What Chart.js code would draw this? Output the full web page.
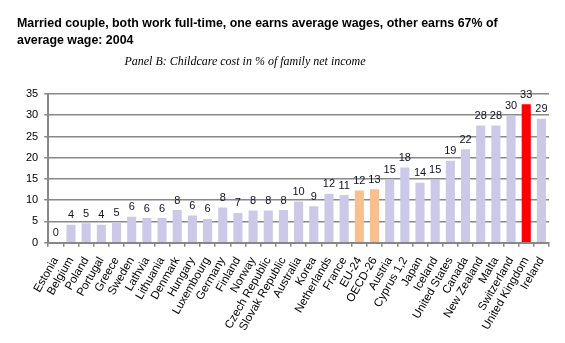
<!DOCTYPE html>
<html>
<head>
<meta charset="utf-8">
<script src="https://cdn.jsdelivr.net/npm/chart.js@4"></script>
<style>
  body { margin: 0; background: #fff; }
  #wrap { position: relative; width: 565px; height: 343px; }
  #title { position: absolute; left: 17px; top: 15px; font: bold 12.4px "Liberation Sans", Arial, sans-serif; line-height: 17px; color: #000; }
  #sub { position: absolute; left: 0; width: 490px; top: 54px; text-align: center; font: italic 12px "Liberation Serif", "Times New Roman", serif; color: #000; }
  canvas { position: absolute; left: 0; top: 0; }
</style>
</head>
<body>
<div id="wrap">
  <canvas id="chart" width="565" height="343"></canvas>
  <div id="title">Married couple, both work full-time, one earns average wages, other earns 67% of<br>average wage: 2004</div>
  <div id="sub">Panel B: Childcare cost in % of family net income</div>
</div>
<script>
// countries, left to right
const countries = ["Estonia", "Belgium", "Poland", "Portugal", "Greece", "Sweden", "Lathvia", "Lithuania",
  "Denmark", "Hungary", "Luxembourg", "Germany", "Finland", "Norway", "Czech Republic", "Slovak Republic",
  "Australia", "Korea", "Netherlands", "France", "EU-24", "OECD-26", "Austria", "Cyprus 1,2", "Japan",
  "Iceland", "United States", "Canada", "New Zealand", "Malta", "Switzerland", "United Kingdom", "Ireland"];
// childcare cost, % of family net income
const costs = [0, 4.2, 4.6, 4.2, 4.8, 6.1, 5.8, 5.8,
  7.7, 6.4, 5.6, 8.3, 7.0, 7.6, 7.6, 7.7,
  9.7, 8.6, 11.5, 11.2, 12.3, 12.6, 14.8, 17.7, 14.1,
  14.8, 19.3, 22.0, 27.6, 27.6, 29.9, 32.6, 29.2];
const averages = ["EU-24", "OECD-26"];
const highlight = ["United Kingdom"];
const yTicks = [0, 5, 10, 15, 20, 25, 30, 35];

const barColors = countries.map(c =>
  highlight.includes(c) ? "#ff0000" : averages.includes(c) ? "#f9c08e" : "#ccc9e8");

// value labels above each bar
const valueLabels = {
  id: "valueLabels",
  afterDatasetsDraw(chart) {
    const ctx = chart.ctx;
    const meta = chart.getDatasetMeta(0);
    ctx.save();
    ctx.font = '11px "Liberation Sans", Arial, sans-serif';
    ctx.fillStyle = "#10102a";
    ctx.textAlign = "center";
    ctx.textBaseline = "bottom";
    meta.data.forEach((bar, i) => {
      ctx.fillText(String(Math.round(costs[i])), bar.x, bar.y - 4);
    });
    ctx.restore();
  }
};

new Chart(document.getElementById("chart"), {
  type: "bar",
  data: {
    labels: countries,
    datasets: [{
      data: costs,
      backgroundColor: barColors,
      barPercentage: 0.6,
      categoryPercentage: 1.0
    }]
  },
  options: {
    responsive: false,
    animation: false,
    layout: { padding: { top: 94, left: 20, right: 16, bottom: 2 } },
    plugins: { legend: { display: false }, tooltip: { enabled: false } },
    scales: {
      x: {
        grid: { drawOnChartArea: false, drawTicks: true, tickLength: 4, color: "#888", lineWidth: 1.5 },
        border: { color: "#888", width: 2 },
        ticks: {
          minRotation: 60, maxRotation: 60, autoSkip: false, padding: 8,
          color: "#000", font: { family: "Liberation Sans", size: 11.5 }
        }
      },
      y: {
        min: 0, max: 35,
        afterBuildTicks: axis => { axis.ticks = yTicks.map(v => ({ value: v })); },
        grid: { color: "#888", lineWidth: 1.5, tickLength: 4 },
        border: { color: "#888", width: 2 },
        ticks: { color: "#000", padding: 6, font: { family: "Liberation Sans", size: 11 } }
      }
    }
  },
  plugins: [valueLabels]
});
</script>
</body>
</html>
